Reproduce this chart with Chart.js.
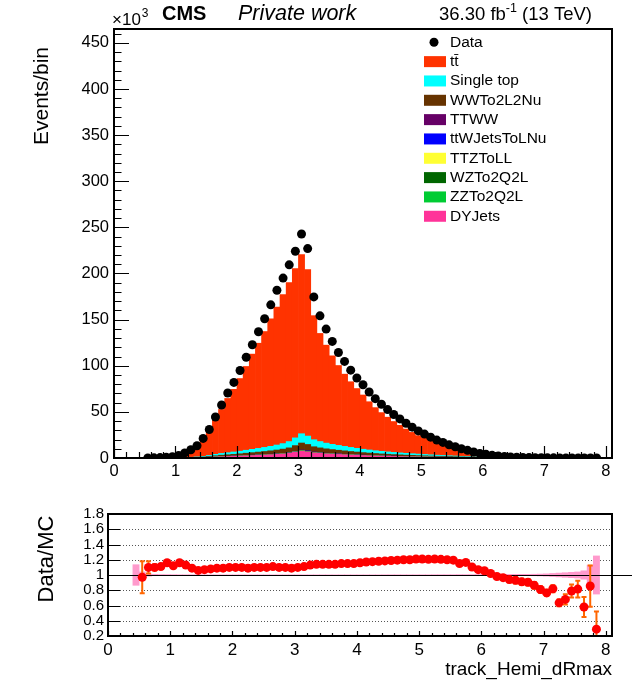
<!DOCTYPE html>
<html>
<head>
<meta charset="utf-8">
<title>track_Hemi_dRmax</title>
<script src="https://cdn.jsdelivr.net/npm/chart.js@4.4.1/dist/chart.umd.min.js"></script>
<style>
  html, body { margin: 0; padding: 0; background: #ffffff; }
  #wrap { position: relative; width: 638px; height: 695px; overflow: hidden; }
  #chartMain { position: absolute; left: 0; top: 0; }
  #chartRatio { position: absolute; left: 0; top: 490px; }
</style>
</head>
<body>
<div id="wrap">
  <canvas id="chartMain" width="638" height="490"></canvas>
  <canvas id="chartRatio" width="638" height="205"></canvas>
</div>
<script>
// --- DATA (events/bin in units of 10^3, bins 0.1 wide) ---
const binCenters = [
  0.45, 0.55, 0.65, 0.75, 0.85, 0.95,
  1.05, 1.15, 1.25, 1.35, 1.45, 1.55, 1.65, 1.75, 1.85, 1.95,
  2.05, 2.15, 2.25, 2.35, 2.45, 2.55, 2.65, 2.75, 2.85, 2.95,
  3.05, 3.15, 3.25, 3.35, 3.45, 3.55, 3.65, 3.75, 3.85, 3.95,
  4.05, 4.15, 4.25, 4.35, 4.45, 4.55, 4.65, 4.75, 4.85, 4.95,
  5.05, 5.15, 5.25, 5.35, 5.45, 5.55, 5.65, 5.75, 5.85, 5.95,
  6.05, 6.15, 6.25, 6.35, 6.45, 6.55, 6.65, 6.75, 6.85, 6.95,
  7.05, 7.15, 7.25, 7.35, 7.45, 7.55, 7.65, 7.75, 7.85
];

const dataEvents = [
  null, 0.02, 0.16, 0.45, 0.75, 1.3,
  2.6, 5.5, 9.0, 13.3, 21.2, 30.9, 44.5, 57.4, 70.4, 81.9,
  94.8, 109.2, 122.8, 136.9, 150.9, 166.0, 181.8, 195.0, 209.4, 224.1,
  242.8, 227.0, 174.6, 154.1, 139.7, 126.4, 114.4, 104.7, 95.2, 86.7,
  79.4, 71.5, 64.3, 58.2, 52.5, 47.1, 42.4, 37.7, 33.4, 29.4,
  25.9, 22.6, 19.4, 16.9, 14.3, 12.2, 10.0, 8.3, 6.5, 5.0,
  4.0, 2.9, 2.2, 1.5, 1.1, 0.8, 0.6, 0.45, 0.33, 0.24,
  0.18, 0.14, 0.09, 0.08, 0.07, 0.05, 0.02, 0.01, 0.02
];

const ttbar = [
  0.01, 0.014, 0.125, 0.36, 0.60, 0.97,
  2.02, 4.24, 7.16, 11.0, 18.2, 26.1, 37.2, 47.7, 58.8, 67.9,
  78.7, 90.8, 103.2, 114.0, 125.6, 138.1, 149.6, 161.5, 172.4, 183.6,
  194.2, 180.5, 134.5, 117.2, 106.2, 95.9, 86.6, 78.3, 71.2, 64.8,
  58.8, 52.3, 46.7, 42.0, 37.6, 33.5, 29.9, 26.3, 23.1, 20.0,
  17.5, 15.3, 12.9, 11.2, 9.4, 8.0, 6.8, 5.5, 4.6, 3.6,
  2.9, 2.14, 1.69, 1.13, 0.84, 0.61, 0.47, 0.35, 0.27, 0.21,
  0.166, 0.12, 0.10, 0.088, 0.064, 0.041, 0.02, 0.007, 0.025
];

const singleTop = [
  0.004, 0.004, 0.008, 0.019, 0.03, 0.057,
  0.11, 0.19, 0.30, 0.46, 0.68, 1.06, 1.52, 1.9, 2.2, 2.51,
  2.85, 3.23, 3.61, 3.99, 4.41, 4.86, 5.4, 6.0, 6.84, 8.36,
  10.07, 9.12, 7.6, 6.84, 6.19, 5.7, 5.24, 4.83, 4.41, 4.03,
  3.65, 3.34, 3.04, 2.77, 2.55, 2.32, 2.13, 1.94, 1.79, 1.63,
  1.48, 1.33, 1.18, 1.06, 0.95, 0.84, 0.72, 0.61, 0.49, 0.42,
  0.34, 0.27, 0.21, 0.16, 0.13, 0.095, 0.072, 0.057, 0.042, 0.034,
  0.027, 0.019, 0.015, 0.011, 0.01, 0.008, 0.006, 0.002, 0.005
];

const wwTo2L2Nu = [
  0.003, 0.003, 0.006, 0.015, 0.023, 0.044,
  0.09, 0.15, 0.23, 0.35, 0.52, 0.81, 1.16, 1.45, 1.68, 1.91,
  2.18, 2.47, 2.76, 3.05, 3.36, 3.71, 4.12, 4.58, 5.22, 6.38,
  7.69, 6.96, 5.8, 5.22, 4.73, 4.35, 4.0, 3.68, 3.36, 3.07,
  2.78, 2.55, 2.32, 2.12, 1.94, 1.77, 1.62, 1.48, 1.36, 1.25,
  1.13, 1.02, 0.9, 0.81, 0.73, 0.64, 0.55, 0.46, 0.38, 0.32,
  0.26, 0.2, 0.16, 0.12, 0.1, 0.073, 0.055, 0.044, 0.032, 0.026,
  0.02, 0.015, 0.012, 0.009, 0.007, 0.006, 0.004, 0.001, 0.005
];

const ttww = [
  0, 0, 0, 0, 0, 0,
  0.002, 0.003, 0.004, 0.006, 0.009, 0.014, 0.02, 0.025, 0.029, 0.033,
  0.038, 0.043, 0.048, 0.053, 0.058, 0.064, 0.071, 0.079, 0.09, 0.11,
  0.135, 0.12, 0.1, 0.09, 0.082, 0.075, 0.069, 0.064, 0.058, 0.053,
  0.048, 0.044, 0.04, 0.037, 0.034, 0.031, 0.028, 0.026, 0.024, 0.022,
  0.02, 0.018, 0.016, 0.014, 0.013, 0.011, 0.01, 0.008, 0.007, 0.006,
  0.005, 0.004, 0.003, 0.002, 0.002, 0.002, 0.001, 0.001, 0.001, 0,
  0, 0, 0, 0, 0, 0, 0, 0, 0
];

const ttWJets = [
  0, 0, 0, 0, 0, 0,
  0.005, 0.008, 0.012, 0.018, 0.027, 0.042, 0.06, 0.075, 0.087, 0.1,
  0.11, 0.13, 0.14, 0.16, 0.17, 0.19, 0.21, 0.24, 0.27, 0.33,
  0.4, 0.36, 0.3, 0.27, 0.24, 0.22, 0.21, 0.19, 0.17, 0.16,
  0.14, 0.13, 0.12, 0.11, 0.1, 0.09, 0.084, 0.077, 0.07, 0.065,
  0.059, 0.053, 0.047, 0.042, 0.038, 0.033, 0.029, 0.024, 0.02, 0.017,
  0.014, 0.011, 0.008, 0.006, 0.005, 0.004, 0.003, 0.002, 0.002, 0.001,
  0, 0, 0, 0, 0, 0, 0, 0, 0
];

const ttZToLL = [
  0, 0, 0, 0, 0, 0,
  0.003, 0.005, 0.008, 0.012, 0.018, 0.028, 0.04, 0.05, 0.058, 0.066,
  0.075, 0.085, 0.095, 0.105, 0.116, 0.128, 0.142, 0.158, 0.18, 0.22,
  0.27, 0.24, 0.2, 0.18, 0.163, 0.15, 0.138, 0.127, 0.116, 0.106,
  0.096, 0.088, 0.08, 0.073, 0.067, 0.061, 0.056, 0.051, 0.047, 0.043,
  0.039, 0.035, 0.031, 0.028, 0.025, 0.022, 0.019, 0.016, 0.013, 0.011,
  0.009, 0.007, 0.006, 0.004, 0.003, 0.003, 0.002, 0.002, 0.001, 0.001,
  0.001, 0, 0, 0, 0, 0, 0, 0, 0
];

const wzTo2Q2L = [
  0, 0, 0, 0, 0, 0,
  0.002, 0.003, 0.004, 0.006, 0.009, 0.014, 0.02, 0.025, 0.029, 0.033,
  0.038, 0.043, 0.048, 0.053, 0.058, 0.064, 0.071, 0.079, 0.09, 0.11,
  0.135, 0.12, 0.1, 0.09, 0.082, 0.075, 0.069, 0.064, 0.058, 0.053,
  0.048, 0.044, 0.04, 0.037, 0.034, 0.031, 0.028, 0.026, 0.024, 0.022,
  0.02, 0.018, 0.016, 0.014, 0.013, 0.011, 0.01, 0.008, 0.007, 0.006,
  0.005, 0.004, 0.003, 0.002, 0.002, 0.002, 0.001, 0.001, 0.001, 0,
  0, 0, 0, 0, 0, 0, 0, 0, 0
];

const zzTo2Q2L = [
  0, 0, 0, 0, 0, 0,
  0.002, 0.003, 0.004, 0.006, 0.009, 0.014, 0.02, 0.025, 0.029, 0.033,
  0.038, 0.043, 0.048, 0.053, 0.058, 0.064, 0.071, 0.079, 0.1, 0.14,
  0.2, 0.15, 0.1, 0.09, 0.082, 0.075, 0.069, 0.064, 0.058, 0.053,
  0.048, 0.044, 0.04, 0.037, 0.034, 0.031, 0.028, 0.026, 0.024, 0.022,
  0.02, 0.018, 0.016, 0.014, 0.013, 0.011, 0.01, 0.008, 0.007, 0.006,
  0.005, 0.004, 0.003, 0.002, 0.002, 0.002, 0.001, 0.001, 0.001, 0,
  0, 0, 0, 0, 0, 0, 0, 0, 0
];

const dyJets = [
  0.003, 0.003, 0.006, 0.014, 0.022, 0.042,
  0.08, 0.14, 0.22, 0.34, 0.50, 0.78, 1.12, 1.4, 1.62, 1.85,
  2.1, 2.38, 2.66, 2.94, 3.25, 3.58, 3.98, 4.42, 5.04, 6.16,
  7.42, 6.72, 5.6, 5.04, 4.56, 4.2, 3.86, 3.56, 3.25, 2.97,
  2.69, 2.46, 2.24, 2.04, 1.88, 1.71, 1.57, 1.43, 1.32, 1.2,
  1.09, 0.98, 0.87, 0.78, 0.7, 0.62, 0.53, 0.45, 0.36, 0.31,
  0.25, 0.2, 0.15, 0.12, 0.09, 0.07, 0.053, 0.042, 0.031, 0.025,
  0.02, 0.014, 0.011, 0.008, 0.007, 0.006, 0.004, 0.002, 0.03
];

// Data/MC per bin, its stat. error and the relative MC uncertainty
const ratioVals = [
  null, 0.97, 1.10, 1.10, 1.11, 1.16,
  1.12, 1.16, 1.13, 1.09, 1.06, 1.07, 1.08, 1.09, 1.09, 1.10,
  1.10, 1.10, 1.09, 1.10, 1.10, 1.10, 1.11, 1.10, 1.10, 1.09,
  1.10, 1.11, 1.13, 1.14, 1.14, 1.14, 1.14, 1.15, 1.15, 1.15,
  1.16, 1.17, 1.175, 1.18, 1.185, 1.19, 1.195, 1.20, 1.20, 1.21,
  1.21, 1.205, 1.21, 1.205, 1.20, 1.195, 1.15, 1.165, 1.105, 1.07,
  1.055, 1.02, 0.98, 0.965, 0.94, 0.93, 0.91, 0.905, 0.865, 0.81,
  0.765, 0.82, 0.635, 0.68, 0.79, 0.815, 0.58, 0.855, 0.29
];

const ratioErr = [
  null, 0.21, 0.08, 0.04, 0.03, 0.025,
  0.02, 0.015, 0.012, 0.01, 0.008, 0.006, 0.005, 0.004, 0.004, 0.003,
  0.003, 0.003, 0.003, 0.003, 0.003, 0.003, 0.003, 0.003, 0.003, 0.003,
  0.003, 0.003, 0.003, 0.003, 0.003, 0.003, 0.004, 0.004, 0.004, 0.004,
  0.005, 0.005, 0.005, 0.006, 0.006, 0.006, 0.007, 0.007, 0.008, 0.008,
  0.009, 0.009, 0.01, 0.011, 0.012, 0.013, 0.014, 0.016, 0.018, 0.02,
  0.022, 0.025, 0.028, 0.033, 0.037, 0.04, 0.042, 0.044, 0.044, 0.044,
  0.04, 0.045, 0.045, 0.066, 0.086, 0.11, 0.13, 0.27, 0.23
];

const mcRelErr = [
  0.135, 0.04, 0.015, 0.008, 0.006, 0.005,
  0.004, 0.003, 0.003, 0.003, 0.002, 0.002, 0.002, 0.002, 0.002, 0.002,
  0.002, 0.002, 0.002, 0.002, 0.002, 0.002, 0.002, 0.002, 0.002, 0.002,
  0.002, 0.002, 0.002, 0.002, 0.002, 0.002, 0.002, 0.002, 0.002, 0.002,
  0.002, 0.002, 0.002, 0.002, 0.003, 0.003, 0.003, 0.003, 0.003, 0.003,
  0.003, 0.003, 0.004, 0.004, 0.004, 0.004, 0.005, 0.005, 0.005, 0.006,
  0.006, 0.006, 0.007, 0.007, 0.008, 0.008, 0.009, 0.009, 0.01, 0.012,
  0.015, 0.02, 0.025, 0.03, 0.035, 0.04, 0.055, 0.13, 0.25
];

// stack order, bottom first
const procNames = ['DYJets', 'ZZTo2Q2L', 'WZTo2Q2L', 'TTZToLL', 'ttWJetsToLNu', 'TTWW', 'WWTo2L2Nu', 'Single top', 'tt\u0304'];
const procValues = [dyJets, zzTo2Q2L, wzTo2Q2L, ttZToLL, ttWJets, ttww, wwTo2L2Nu, singleTop, ttbar];
const procColors = ['#ff3399', '#00cc33', '#006600', '#ffff33', '#0000ff', '#660066', '#663300', '#00ffff', '#ff3300'];

// ticks
const xTicks = [0, 1, 2, 3, 4, 5, 6, 7, 8];
const yTicksMain = [0, 50, 100, 150, 200, 250, 300, 350, 400, 450];
const yTicksRatio = [0.2, 0.4, 0.6, 0.8, 1, 1.2, 1.4, 1.6, 1.8];
const ratioGrid = [0.4, 0.6, 0.8, 1.2, 1.4, 1.6];

const FONT = '"Liberation Sans", Arial, Helvetica, sans-serif';

function txt(ctx, s, x, y, size, style, align) {
    ctx.font = `${style || ''} ${size}px ${FONT}`;
    ctx.textAlign = align || 'left';
    ctx.fillText(s, x, y);
}

function pinTicks(values) {
    return scale => { scale.ticks = values.map(v => ({ value: v })); };
}

function points(vals) {
    return binCenters.map((c, i) => ({ x: c, y: vals[i] }));
}

// --- MAIN PAD: frame, ticks, header, legend ---
const rootMain = {
    id: 'rootMain',
    afterDraw(chart) {
        const { ctx, chartArea: a } = chart;
        const x = chart.scales.x, y = chart.scales.y;
        ctx.save();
        ctx.strokeStyle = '#000';
        ctx.lineWidth = 1.2;
        ctx.beginPath();
        for (let i = 0; i <= 46; i++) {
            const py = Math.round(y.getPixelForValue(i * 10)) + 0.5;
            ctx.moveTo(a.left, py);
            ctx.lineTo(a.left + (i % 5 === 0 ? 15 : 7.5), py);
        }
        for (let i = 0; i <= 40; i++) {
            const px = Math.round(x.getPixelForValue(i * 0.2)) + 0.5;
            ctx.moveTo(px, a.bottom);
            ctx.lineTo(px, a.bottom - (i % 5 === 0 ? 12 : 6));
        }
        ctx.stroke();
        ctx.lineWidth = 2;
        ctx.strokeRect(a.left, a.top, a.right - a.left, a.bottom - a.top);

        ctx.fillStyle = '#000';
        ctx.textBaseline = 'alphabetic';
        txt(ctx, '\u00d710', 112, 25, 17);
        const w10 = ctx.measureText('\u00d710').width;
        txt(ctx, '3', 112 + w10 + 1, 17, 12);
        txt(ctx, 'CMS', 162, 20, 20, 'bold');
        txt(ctx, 'Private work', 238, 20, 21.5, 'italic');

        // lumi label, right aligned
        ctx.font = `18.5px ${FONT}`;
        const wA = ctx.measureText('36.30 fb').width;
        const wC = ctx.measureText(' (13 TeV)').width;
        ctx.font = `12.5px ${FONT}`;
        const wB = ctx.measureText('-1').width;
        const x0 = 592 - (wA + wB + wC);
        txt(ctx, '36.30 fb', x0, 20, 18.5);
        txt(ctx, '-1', x0 + wA, 12, 12.5);
        txt(ctx, ' (13 TeV)', x0 + wA + wB, 20, 18.5);

        // y title
        ctx.save();
        ctx.translate(42, 47);
        ctx.rotate(-Math.PI / 2);
        ctx.textBaseline = 'middle';
        txt(ctx, 'Events/bin', 0, 0, 21, '', 'right');
        ctx.restore();

        // legend
        const rowH = 19.33;
        let ry = 42.3;
        ctx.textBaseline = 'middle';
        ctx.beginPath();
        ctx.arc(434, ry, 4.5, 0, Math.PI * 2);
        ctx.fill();
        txt(ctx, 'Data', 450, ry, 15.5);
        for (let k = procNames.length - 1; k >= 0; k--) {
            ry += rowH;
            ctx.fillStyle = procColors[k];
            ctx.fillRect(424, ry - 5.5, 22, 11);
            ctx.fillStyle = '#000';
            txt(ctx, procNames[k], 450, ry, 15.5);
        }
        ctx.restore();
    }
};

// --- RATIO PAD ---
const rootRatio = {
    id: 'rootRatio',
    beforeDatasetsDraw(chart) {
        const { ctx, chartArea: a } = chart;
        const y = chart.scales.y;
        ctx.save();
        ctx.strokeStyle = '#555';
        ctx.lineWidth = 1;
        ctx.setLineDash([1, 2]);
        ctx.beginPath();
        ratioGrid.forEach(v => {
            const py = Math.round(y.getPixelForValue(v)) + 0.5;
            ctx.moveTo(a.left, py);
            ctx.lineTo(a.right, py);
        });
        ctx.stroke();
        ctx.restore();
    },
    afterDatasetDraw(chart, args) {
        if (args.meta.type !== 'bar') return;
        const { ctx, chartArea: a } = chart;
        const x = chart.scales.x, y = chart.scales.y;
        ctx.save();
        // unity line, runs past the frame
        ctx.strokeStyle = '#000';
        ctx.lineWidth = 1.2;
        ctx.beginPath();
        const p1 = Math.round(y.getPixelForValue(1)) + 0.5;
        ctx.moveTo(a.left, p1);
        ctx.lineTo(632, p1);
        ctx.stroke();
        // data stat. errors
        ctx.strokeStyle = '#ff6600';
        ctx.lineWidth = 2;
        ctx.beginPath();
        binCenters.forEach((c, i) => {
            if (ratioVals[i] == null || !ratioErr[i]) return;
            const px = x.getPixelForValue(c);
            const hi = y.getPixelForValue(ratioVals[i] + ratioErr[i]);
            const lo = y.getPixelForValue(ratioVals[i] - ratioErr[i]);
            ctx.moveTo(px, Math.max(hi, a.top));
            ctx.lineTo(px, Math.min(lo, a.bottom));
            if (hi > a.top) { ctx.moveTo(px - 2.5, hi); ctx.lineTo(px + 2.5, hi); }
            if (lo < a.bottom) { ctx.moveTo(px - 2.5, lo); ctx.lineTo(px + 2.5, lo); }
        });
        ctx.stroke();
        ctx.restore();
    },
    afterDraw(chart) {
        const { ctx, chartArea: a } = chart;
        const x = chart.scales.x, y = chart.scales.y;
        ctx.save();
        ctx.strokeStyle = '#000';
        ctx.lineWidth = 1.2;
        ctx.beginPath();
        yTicksRatio.forEach(v => {
            const py = Math.round(y.getPixelForValue(v)) + 0.5;
            ctx.moveTo(a.left, py);
            ctx.lineTo(a.left + 12, py);
        });
        for (let i = 0; i <= 40; i++) {
            const px = Math.round(x.getPixelForValue(i * 0.2)) + 0.5;
            ctx.moveTo(px, a.bottom);
            ctx.lineTo(px, a.bottom - (i % 5 === 0 ? 5 : 3));
        }
        ctx.stroke();
        ctx.lineWidth = 2;
        ctx.strokeRect(a.left, a.top, a.right - a.left, a.bottom - a.top);

        ctx.fillStyle = '#000';
        ctx.save();
        ctx.translate(47, 69);
        ctx.rotate(-Math.PI / 2);
        ctx.textBaseline = 'middle';
        txt(ctx, 'Data/MC', 0, 0, 22, '', 'center');
        ctx.restore();
        ctx.textBaseline = 'alphabetic';
        txt(ctx, 'track_Hemi_dRmax', 612, 185, 19, '', 'right');
        ctx.restore();
    }
};

const tickFont = size => ({ family: FONT, size: size });

// --- MAIN CHART ---
const stackSets = procNames.map((name, k) => ({
    type: 'bar',
    label: name,
    data: points(procValues[k]),
    backgroundColor: procColors[k],
    borderWidth: 0,
    barPercentage: 1,
    categoryPercentage: 1,
    stack: 'mc',
    order: 1
}));

new Chart(document.getElementById('chartMain'), {
    type: 'bar',
    data: {
        datasets: [{
            type: 'line',
            label: 'Data',
            data: points(dataEvents),
            showLine: false,
            pointRadius: 4.5,
            pointBackgroundColor: '#000',
            pointBorderWidth: 0,
            stack: 'data',
            order: 0
        }, ...stackSets]
    },
    options: {
        responsive: false,
        animation: false,
        layout: { padding: { top: 29, right: 26, bottom: 0, left: 0 } },
        plugins: { legend: { display: false }, tooltip: { enabled: false } },
        scales: {
            x: {
                type: 'linear', min: 0, max: 8.1, offset: false, stacked: true,
                grid: { display: false, drawTicks: false, offset: false },
                border: { display: false },
                afterBuildTicks: pinTicks(xTicks),
                ticks: { padding: 4, maxRotation: 0, autoSkip: false, color: '#000', font: tickFont(16.5), callback: v => String(v) },
                afterFit: s => { s.height = 32; }
            },
            y: {
                type: 'linear', min: 0, max: 465, stacked: true,
                grid: { display: false, drawTicks: false },
                border: { display: false },
                afterBuildTicks: pinTicks(yTicksMain),
                ticks: { padding: 5, autoSkip: false, color: '#000', font: tickFont(16.5), callback: v => String(v) },
                afterFit: s => { s.width = 114; }
            }
        }
    },
    plugins: [rootMain]
});

// --- RATIO CHART ---
new Chart(document.getElementById('chartRatio'), {
    type: 'bar',
    data: {
        datasets: [{
            type: 'line',
            label: 'Data/MC',
            data: points(ratioVals),
            showLine: false,
            pointRadius: 4.5,
            pointBackgroundColor: '#ff0000',
            pointBorderWidth: 0,
            order: 0
        }, {
            type: 'bar',
            label: 'MC unc.',
            data: binCenters.map((c, i) => ({ x: c, y: [1 - mcRelErr[i], 1 + mcRelErr[i]] })),
            backgroundColor: '#ff9acc',
            borderWidth: 0,
            barPercentage: 1,
            categoryPercentage: 1,
            order: 2
        }]
    },
    options: {
        responsive: false,
        animation: false,
        layout: { padding: { top: 24, right: 26, bottom: 0, left: 0 } },
        plugins: { legend: { display: false }, tooltip: { enabled: false } },
        scales: {
            x: {
                type: 'linear', min: 0, max: 8.1, offset: false,
                grid: { display: false, drawTicks: false, offset: false },
                border: { display: false },
                afterBuildTicks: pinTicks(xTicks),
                ticks: { padding: 4, maxRotation: 0, autoSkip: false, color: '#000', font: tickFont(17), callback: v => String(v) },
                afterFit: s => { s.height = 59; }
            },
            y: {
                type: 'linear', min: 0.2, max: 1.8,
                grid: { display: false, drawTicks: false },
                border: { display: false },
                afterBuildTicks: pinTicks(yTicksRatio),
                ticks: { padding: 4, autoSkip: false, color: '#000', font: tickFont(15), callback: v => String(v) },
                afterFit: s => { s.width = 108; }
            }
        }
    },
    plugins: [rootRatio]
});
</script>
</body>
</html>
